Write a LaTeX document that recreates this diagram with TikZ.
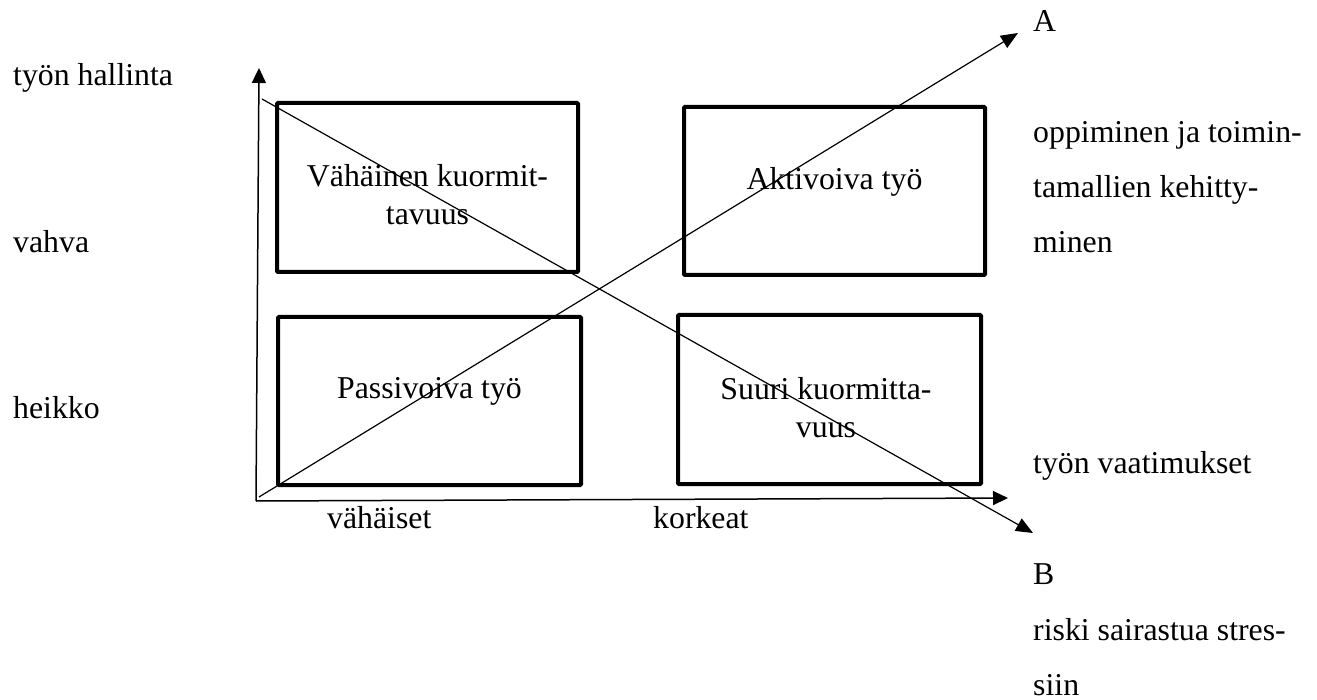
\documentclass[tikz,border=0pt]{standalone}
\usepackage{fontspec}
\setmainfont{Liberation Serif}
\usetikzlibrary{arrows.meta}
\begin{document}
\begin{tikzpicture}[x=1pt,y=-1pt,
  txt/.style={inner sep=0pt, font=\fontsize{31.8}{38}\selectfont},
  lbl/.style={txt, anchor=base west},
  boxtxt/.style={txt, anchor=base, align=center},
  quad/.style={draw, line width=4pt, inner sep=0pt, rounded corners=1pt},
  axis/.style={line width=1.5pt, -{Triangle[length=15pt,width=14pt]}},
  diag/.style={line width=1.2pt, -{Triangle[length=17pt,width=14pt]}}]
\path[use as bounding box] (0,0) rectangle (1317,700);

% quadrant boxes
\node[quad, minimum width=301pt, minimum height=169pt] (vk) at (427.5,187.5) {};
\node[quad, minimum width=301pt, minimum height=168pt] (ak) at (834.5,191) {};
\node[quad, minimum width=303pt, minimum height=168pt] (pa) at (429.5,401) {};
\node[quad, minimum width=303pt, minimum height=169pt] (su) at (829.5,399.5) {};

% axes
\coordinate (o) at (256,501);
\coordinate (ytop) at (259,68);
\coordinate (xend) at (1008,498);
\draw[axis] (o) -- (ytop);
\draw[axis] (o) -- (xend);

% diagonals
\coordinate (a0) at (259,497);
\coordinate (a1) at (1018,33);
\coordinate (b0) at (262,99);
\coordinate (b1) at (1033,533);
\draw[diag] (a0) -- (a1);
\draw[diag] (b0) -- (b1);

% texts inside the boxes (base anchor sits on the last line)
\node[boxtxt] (vkt) at (427.5,225) {Vähäinen kuormit-\\tavuus};
\node[boxtxt] (akt) at (834.5,190) {Aktivoiva työ};
\node[boxtxt] (pat) at (429.5,399) {Passivoiva työ};
\node[boxtxt] (sut) at (826,437) {Suuri kuormitta-\\vuus};

% axis labels
\node[lbl] (hal) at (13,86) {työn hallinta};
\node[lbl] (vah) at (13,253) {vahva};
\node[lbl] (hei) at (13,418) {heikko};
\node[lbl] (vha) at (327,528) {vähäiset};
\node[lbl] (kor) at (653,528) {korkeat};
\node[lbl] (vaa) at (1033,473) {työn vaatimukset};

% outcomes of the diagonals
\node[lbl] (la) at (1033,32) {A};
\node[lbl] (op1) at (1033,143) {oppiminen ja toimin-};
\node[lbl] (op2) at (1033,198) {tamallien kehitty-};
\node[lbl] (op3) at (1033,253) {minen};
\node[lbl] (lb) at (1033,584) {B};
\node[lbl] (ri1) at (1033,640) {riski sairastua stres-};
\node[lbl] (ri2) at (1033,695) {siin};
\end{tikzpicture}
\end{document}
